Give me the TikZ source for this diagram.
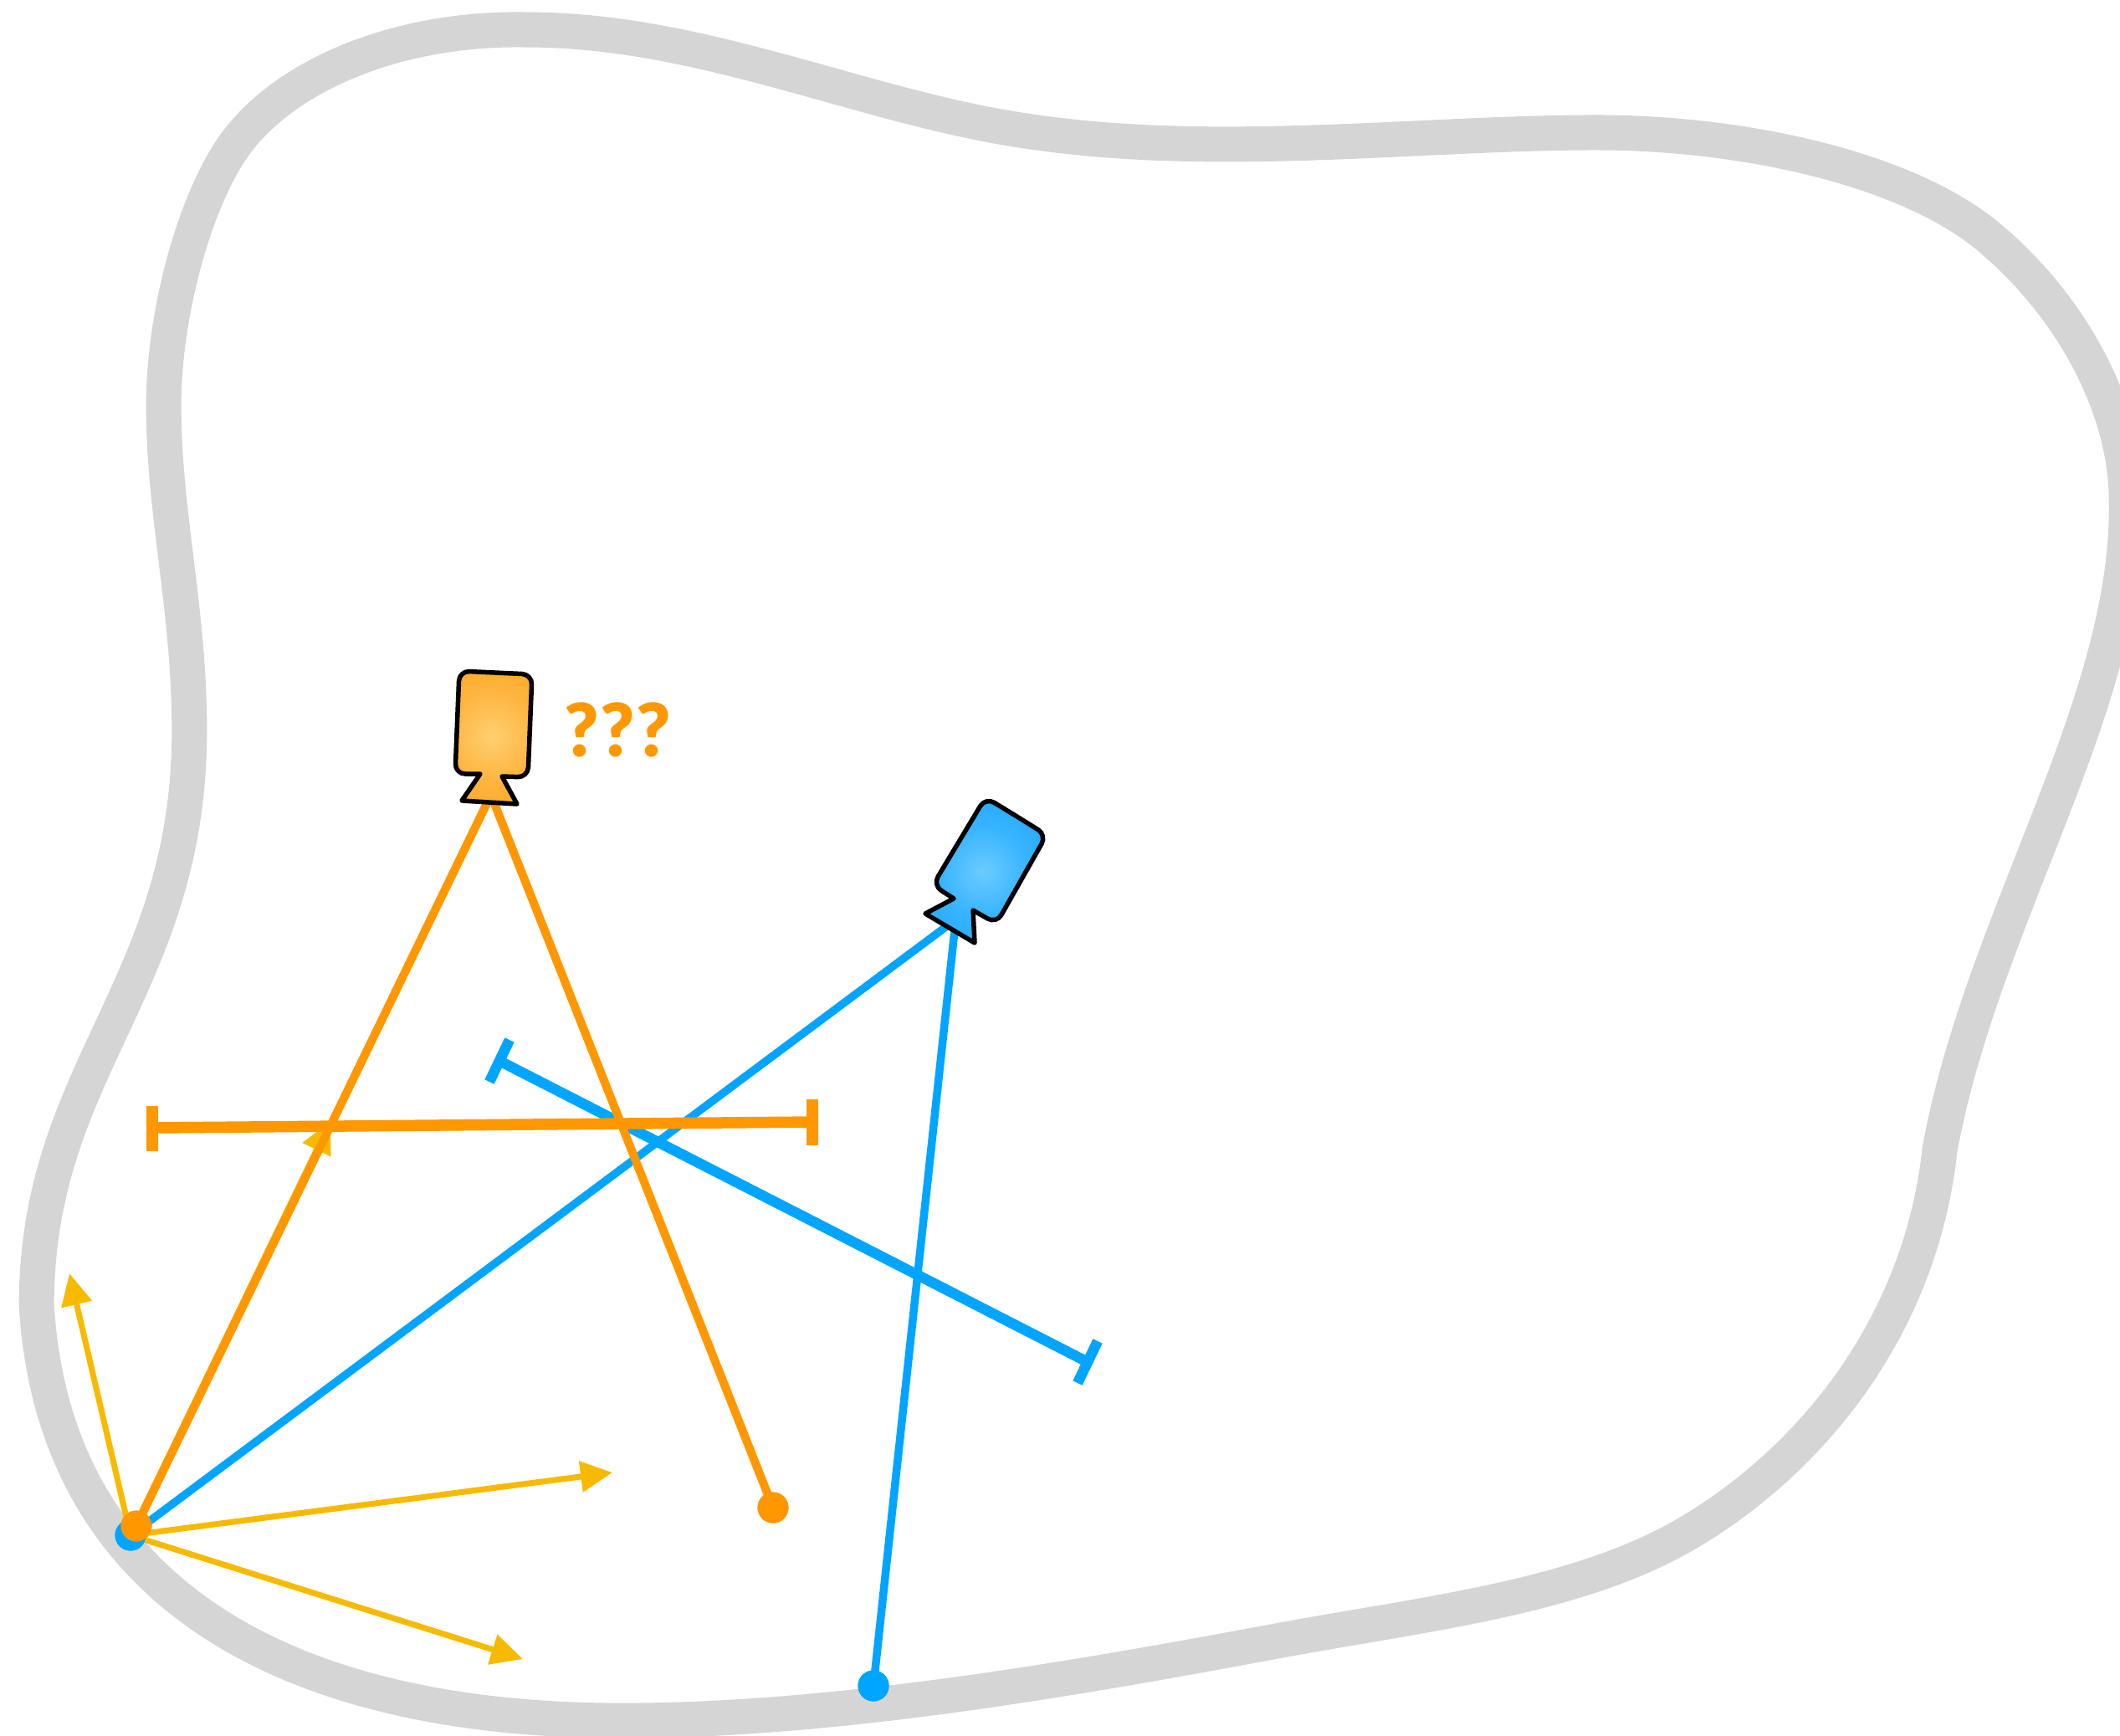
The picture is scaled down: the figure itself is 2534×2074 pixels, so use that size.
\documentclass[tikz,border=0pt]{standalone}
\usepackage{fontspec}
\usetikzlibrary{arrows.meta}
\newfontfamily\qfont{Lato Black}
\definecolor{blobgray}{HTML}{D5D5D5}
\definecolor{oline}{HTML}{FF9800}
\definecolor{bline}{HTML}{00A5FF}
\definecolor{yline}{HTML}{F8BA00}
\definecolor{ocore}{HTML}{FFCF70}
\definecolor{omid}{HTML}{FFB540}
\definecolor{oedge}{HTML}{FF9C0A}
\definecolor{bcore}{HTML}{6CCBFF}
\definecolor{bmid}{HTML}{38B4FF}
\definecolor{bedge}{HTML}{12A0FF}
\pgfdeclareradialshading{ograd}{\pgfpointorigin}{color(0bp)=(ocore); color(14bp)=(omid); color(35bp)=(oedge); color(50bp)=(oedge)}
\pgfdeclareradialshading{bgrad}{\pgfpointorigin}{color(0bp)=(bcore); color(14bp)=(bmid); color(35bp)=(bedge); color(50bp)=(bedge)}
\tikzset{
 blob/.style={draw=blobgray,line width=0.42cm,line join=round},
 oconn/.style={draw=oline,line width=0.10cm},
 bconn/.style={draw=bline,line width=0.095cm},
 yarrow/.style={draw=yline,line width=0.07cm,-{Triangle[length=0.38cm,width=0.36cm,fill=yline]}},
 otbar/.style={draw=oline,line width=0.135cm},
 btbar/.style={draw=bline,line width=0.125cm},
 odot/.style={circle,fill=oline,inner sep=0,minimum size=0.37cm},
 bdot/.style={circle,fill=bline,inner sep=0,minimum size=0.37cm},
 camline/.style={draw=black,line width=0.055cm,line join=round},
}
\newcommand{\camOpath}{(592,804) [rounded corners=0.12cm] -- (636,806) -- (631,929) [sharp corners] -- (600,928) -- (618,961) -- (552,957) -- (574,925) [rounded corners=0.12cm] -- (544,925) -- (549,802) -- cycle}
\newcommand{\camBpath}{(1214,975) [rounded corners=0.12cm] -- (1251,998) -- (1191,1104) [sharp corners] -- (1163,1088) -- (1165,1127) -- (1106,1092) -- (1140,1074) [rounded corners=0.12cm] -- (1115,1058) -- (1178,953) -- cycle}
\begin{document}
\begin{tikzpicture}[x=0.01cm,y=-0.01cm]
\useasboundingbox (0,0) rectangle (2534,2074);
\clip (0,0) rectangle (2534,2074);
% enclosing curve
\begin{scope}[x=0.01616cm,y=-0.01616cm]
\draw[blob] (1434,850)
 .. controls (1465,680) and (1575,520) .. (1572,370)
 .. controls (1572,300) and (1530,225) .. (1470,175)
 .. controls (1410,125) and (1290,98) .. (1180,98)
 .. controls (1050,98) and (900,118) .. (760,97)
 .. controls (640,80) and (520,22) .. (390,22)
 .. controls (300,20) and (215,52) .. (175,105)
 .. controls (145,145) and (121,230) .. (121,300)
 .. controls (121,380) and (140,450) .. (140,540)
 .. controls (140,730) and (27,790) .. (27,965)
 .. controls (40,1180) and (215,1272) .. (460,1272)
 .. controls (620,1272) and (800,1240) .. (950,1212)
 .. controls (1060,1192) and (1170,1180) .. (1250,1132)
 .. controls (1340,1078) and (1420,980) .. (1434,850) -- cycle;
\end{scope}
% coordinates
\coordinate (camOa) at (583,958);
\coordinate (camOb) at (590,958);
\coordinate (camBa) at (1133,1106);
\coordinate (camBb) at (1141,1112);
\coordinate (tipUp) at (83,1522);
\coordinate (tipHid) at (395,1340);
\coordinate (tipR) at (732,1760);
\coordinate (tipD) at (625,1983);
\coordinate (bL) at (597,1268);
\coordinate (bR) at (1300,1628);
\coordinate (bLa) at (609,1243);
\coordinate (bLb) at (585,1293);
\coordinate (bRa) at (1312,1603);
\coordinate (bRb) at (1288,1653);
\coordinate (oL) at (182,1348);
\coordinate (oR) at (971,1341);
\coordinate (oLa) at (182,1322);
\coordinate (oLb) at (182,1376);
\coordinate (oRa) at (971,1314);
\coordinate (oRb) at (971,1369);
% dots
\node[bdot] (bA) at (156,1835) {};
\node[bdot] (bC) at (1044,2015) {};
\node[odot] (oA) at (163,1824) {};
\node[odot] (oC) at (924,1802) {};
% yellow arrows
\draw[yarrow] (bA.center) -- (tipUp);
\draw[yarrow] (bA.center) -- (tipHid);
\draw[yarrow] (bA.center) -- (tipR);
\draw[yarrow] (bA.center) -- (tipD);
% blue connectors
\draw[bconn] (bA.center) -- (camBa);
\draw[bconn] (bC.center) -- (camBb);
\draw[btbar] (bL) -- (bR);
\draw[btbar] (bLa) -- (bLb);
\draw[btbar] (bRa) -- (bRb);
% orange connectors
\draw[oconn] (oA.center) -- (camOa);
\draw[oconn] (oC.center) -- (camOb);
\draw[otbar] (oL) -- (oR);
\draw[otbar] (oLa) -- (oLb);
\draw[otbar] (oRa) -- (oRb);
% redraw dots on top
\node[bdot] at (bA) {};
\node[bdot] at (bC) {};
\node[odot] at (oA) {};
\node[odot] at (oC) {};
% orange camera
\fill[oedge] \camOpath;
\begin{scope}
\clip \camOpath;
\shade[shading=ograd] (588,880) circle (95);
\end{scope}
\draw[camline] \camOpath;
% blue camera
\fill[bedge] \camBpath;
\begin{scope}
\clip \camBpath;
\shade[shading=bgrad] (1175,1042) circle (95);
\end{scope}
\draw[camline] \camBpath;
% label
\node[text=oline,inner sep=0,font=\qfont\fontsize{25}{25}\selectfont] (qq) at (738,872) {?\kern0.4pt?\kern0.4pt?};
\end{tikzpicture}
\end{document}
